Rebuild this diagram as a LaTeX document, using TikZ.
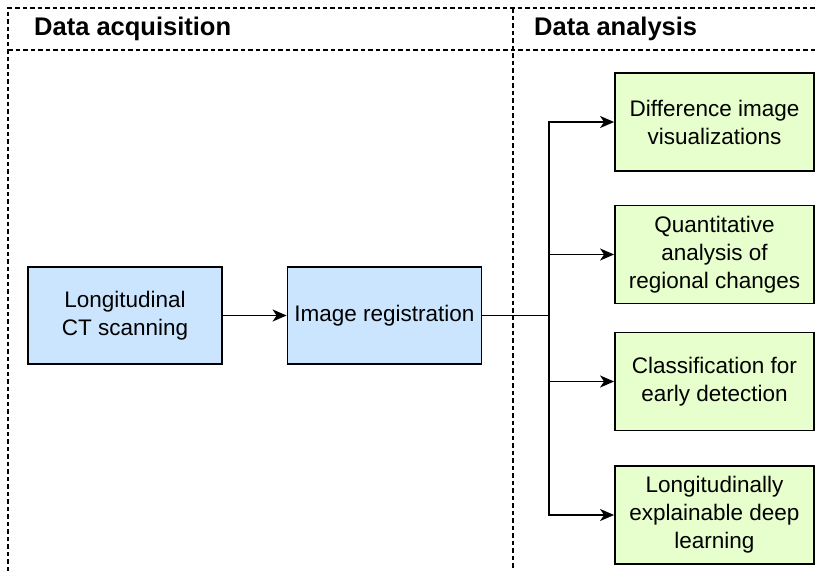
\documentclass[tikz,border=0pt]{standalone}
\usepackage{fontspec}
\setmainfont{Liberation Sans}
\usetikzlibrary{arrows.meta,positioning}
\definecolor{stageblue}{HTML}{CCE5FF}
\definecolor{taskgreen}{HTML}{E6FFCC}
\tikzstyle{stage}=[draw=black,line width=1.8pt,fill=stageblue,minimum width=194pt,minimum height=97pt,align=center,inner sep=2pt,font=\fontsize{22.5}{28}\selectfont]
\tikzstyle{task}=[stage,fill=taskgreen,minimum width=199pt,minimum height=98pt]
\tikzstyle{lane}=[draw,line width=1.3pt,dash pattern=on 4.5pt off 3pt]
\tikzstyle{flow}=[draw,line width=1.8pt,-{Stealth[length=14pt,width=12pt,inset=4pt]}]
\tikzstyle{lanetitle}=[anchor=west,inner sep=0pt,font=\bfseries\fontsize{25.5}{30}\selectfont]

\begin{document}
\begin{tikzpicture}[x=1pt,y=-1pt]
    \useasboundingbox (0,0) rectangle (815,571);
    % Swimlane frame
    \path[lane] (8,571) -- (8,8) -- (815,8);
    \path[lane] (8,50) -- (815,50);
    \path[lane] (513,8) -- (513,571);
    \node[lanetitle] (acq) at (34,29) {Data acquisition};
    \node[lanetitle] (ana) at (534,29) {Data analysis};
    % Acquisition stages
    \node[stage] (scan) at (125,315.5) {Longitudinal\\CT scanning};
    \node[stage] (reg) at (384.5,315.5) {Image registration};
    % Analysis tasks
    \foreach \pos/\name/\txt in {{(714.5,122)/diff/Difference image\\visualizations},
        {(714.5,254.5)/quant/Quantitative\\analysis of\\regional changes},
        {(714.5,381.5)/class/Classification for\\early detection},
        {(714.5,515)/expl/Longitudinally\\explainable deep\\learning}}
        \node[task] (\name) at \pos {\txt};
    % Connect stages and tasks
    \coordinate (split) at (549,315.5);
    \path[flow] (scan) -- (reg);
    \foreach \dest in {diff,quant,class,expl}
        \path[flow] (reg.east) -- (split) |- (\dest.west);
\end{tikzpicture}
\end{document}
